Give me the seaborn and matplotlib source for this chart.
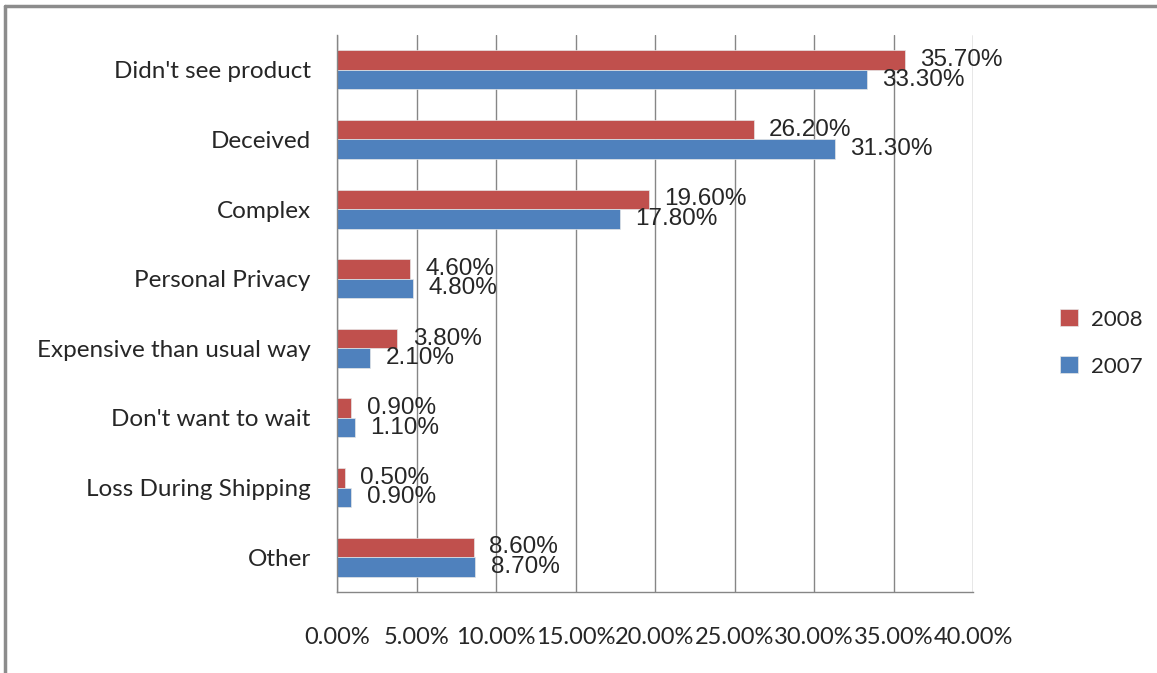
import matplotlib
matplotlib.use("Agg")
import matplotlib.pyplot as plt
from matplotlib.lines import Line2D
from matplotlib.ticker import MultipleLocator, FuncFormatter, FixedLocator
import seaborn as sns
import pandas as pd

# chart data
reasons = ["Didn't see product", "Deceived", "Complex", "Personal Privacy",
           "Expensive than usual way", "Don't want to wait",
           "Loss During Shipping", "Other"]
values_2008 = [35.7, 26.2, 19.6, 4.6, 3.8, 0.9, 0.5, 8.6]
values_2007 = [33.3, 31.3, 17.8, 4.8, 2.1, 1.1, 0.9, 8.7]
years = ["2008", "2007"]

df = pd.DataFrame({
    "reason": reasons * 2,
    "pct": values_2008 + values_2007,
    "year": ["2008"] * len(reasons) + ["2007"] * len(reasons),
})

sns.set_style("white")
fig = plt.figure(figsize=(11.57, 6.73), dpi=100)
ax = fig.add_axes([0.2913, 0.1204, 0.5497, 0.8276])

sns.barplot(data=df, y="reason", x="pct", hue="year", hue_order=years,
            order=reasons, orient="h", width=0.56, gap=0, saturation=1,
            palette={"2008": "#C0504D", "2007": "#4F81BD"},
            edgecolor="#E6E6E6", linewidth=0.5, ax=ax)

# value labels
for cont in ax.containers:
    ax.bar_label(cont, labels=[f"{v.get_width():.2f}%" for v in cont],
                 padding=11, fontsize=17.5, family="Liberation Sans",
                 color="#262626")

ax.set_xlim(0, 40)
ax.set_ylim(len(reasons) - 0.5, -0.5)
ax.xaxis.set_major_locator(MultipleLocator(5))
ax.xaxis.set_major_formatter(FuncFormatter(lambda v, p: f"{v:.2f}%"))
ax.grid(axis="x", color="#868686", linewidth=1.0)
ax.set_axisbelow(True)

ax.yaxis.set_minor_locator(FixedLocator([i - 0.5 for i in range(len(reasons) + 1)]))
ax.tick_params(axis="y", which="major", length=0, pad=19, labelsize=17.5)
ax.tick_params(axis="y", which="minor", length=6, color="#868686", width=1.0)
ax.tick_params(axis="x", which="major", length=6, color="#868686", width=1.0,
               pad=19, labelsize=17, direction="out")
for lbl in ax.get_yticklabels() + ax.get_xticklabels():
    lbl.set_family("Lato")
    lbl.set_color("#262626")

for side in ["top", "right"]:
    ax.spines[side].set_visible(False)
for side in ["left", "bottom"]:
    ax.spines[side].set_color("#868686")
    ax.spines[side].set_linewidth(1.0)

ax.set_xlabel("")
ax.set_ylabel("")

leg = ax.legend(loc="center left", bbox_to_anchor=(1.105, 0.447), frameon=False,
                prop={"family": "Lato", "size": 16}, handlelength=0.8,
                handleheight=0.8, labelspacing=1.2, handletextpad=0.6)
for t in leg.get_texts():
    t.set_color("#262626")

# outer chart border (left and top visible)
fig.add_artist(Line2D([5 / 1157, 5 / 1157], [0, 1 - 6 / 673],
                      transform=fig.transFigure, color="#8c8c8c", linewidth=2.5))
fig.add_artist(Line2D([5 / 1157, 1], [1 - 6 / 673, 1 - 6 / 673],
                      transform=fig.transFigure, color="#8c8c8c", linewidth=2.5))

fig.savefig("out.png", dpi=100)
